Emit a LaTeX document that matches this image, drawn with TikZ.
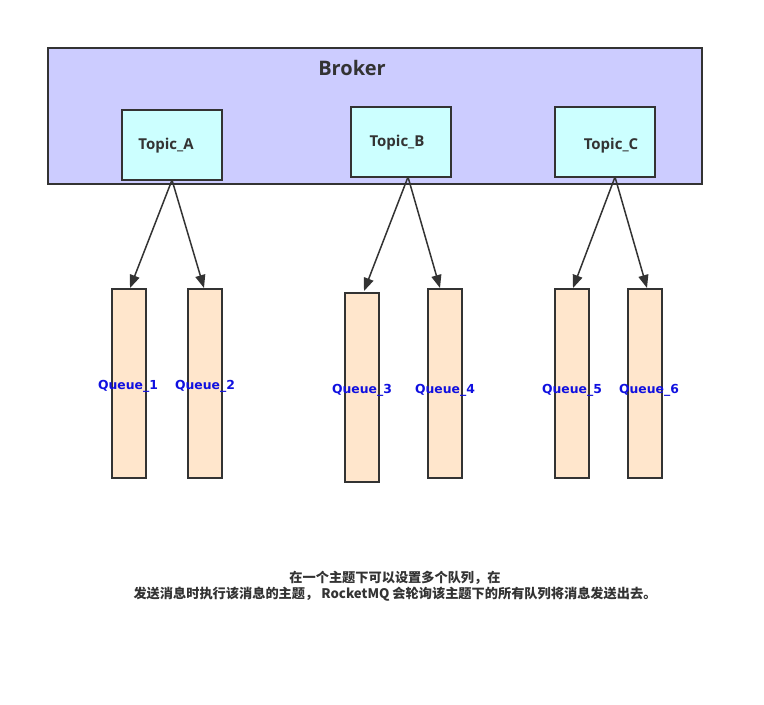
\documentclass[tikz,border=0pt]{standalone}
\usepackage{fontspec}
\setmainfont{DejaVu Sans}
\newfontfamily\topicfont{Open Sans}
\newfontfamily\cjkfont{Noto Sans CJK SC}
\usetikzlibrary{arrows.meta}
\definecolor{brokerfill}{HTML}{CCCCFF}
\definecolor{topicfill}{HTML}{CCFFFF}
\definecolor{queuefill}{HTML}{FFE6CC}
\definecolor{linegray}{HTML}{333333}
\definecolor{qblue}{HTML}{1010E0}
\tikzset{
  box/.style={draw=linegray, line width=1.5pt, inner sep=0pt, outer sep=0pt},
  brokerbox/.style={box, fill=brokerfill, minimum width=654pt, minimum height=136pt},
  topicbox/.style={box, fill=topicfill, minimum width=100pt, minimum height=70pt},
  queuebox/.style={box, fill=queuefill, minimum width=34pt, minimum height=189pt},
  qlabel/.style={text=qblue, font=\bfseries\fontsize{12.4}{14}\selectfont, inner sep=0pt},
  tlabel/.style={text=linegray, font=\topicfont\bfseries\fontsize{15}{17}\selectfont, inner sep=0pt},
  conn/.style={draw=linegray, line width=1.5pt, -{Triangle[length=13pt,width=10pt]}},
}
\begin{document}
\begin{tikzpicture}[x=1pt,y=-1pt]
\useasboundingbox (0,0) rectangle (764,705);
\fill[white] (0,0) rectangle (764,705);
\node[brokerbox, anchor=north west] (broker) at (48,48) {};
\node[text=linegray, font=\topicfont\bfseries\fontsize{20}{24}\selectfont, inner sep=0pt] (brokerlbl) at (352,68) {Broker};
\node[topicbox, anchor=north west] (ta) at (122,110) {};
\node[topicbox, anchor=north west] (tb) at (351,107) {};
\node[topicbox, anchor=north west] (tc) at (555,107) {};
\node[tlabel] (tal) at (166,146) {Topic\_A};
\node[tlabel] (tbl) at (397,143) {Topic\_B};
\node[tlabel] (tcl) at (611,146) {Topic\_C};
\node[queuebox, anchor=north west] (q1) at (112,289) {};
\node[queuebox, anchor=north west] (q2) at (188,289) {};
\node[queuebox, anchor=north west] (q3) at (345,293) {};
\node[queuebox, anchor=north west] (q4) at (428,289) {};
\node[queuebox, anchor=north west] (q5) at (555,289) {};
\node[queuebox, anchor=north west] (q6) at (628,289) {};
\node[qlabel] (q1l) at (128,386) {Queue\_1};
\node[qlabel] (q2l) at (205,386) {Queue\_2};
\node[qlabel] (q3l) at (362,390) {Queue\_3};
\node[qlabel] (q4l) at (445,390) {Queue\_4};
\node[qlabel] (q5l) at (572,390) {Queue\_5};
\node[qlabel] (q6l) at (649,390) {Queue\_6};
\coordinate (ao) at (172,180);
\coordinate (bo) at (408,177);
\coordinate (co) at (615,177);
\coordinate (q1t) at (130,288);
\coordinate (q2t) at (204,288);
\coordinate (q3t) at (364,291);
\coordinate (q4t) at (440,288);
\coordinate (q5t) at (573,288);
\coordinate (q6t) at (647,288);
\path (ao) edge[conn] (q1t) edge[conn] (q2t);
\path (bo) edge[conn] (q3t) edge[conn] (q4t);
\path (co) edge[conn] (q5t) edge[conn] (q6t);
\node[text=linegray, font=\cjkfont\bfseries\fontsize{13.2}{16}\selectfont, align=center, inner sep=0pt] (note) at (395,586) {在一个主题下可以设置多个队列，在\\发送消息时执行该消息的主题， RocketMQ 会轮询该主题下的所有队列将消息发送出去。};
\end{tikzpicture}
\end{document}
